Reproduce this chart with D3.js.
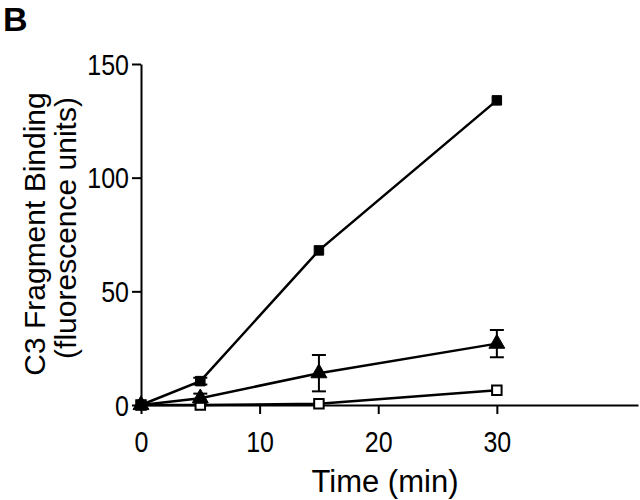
<!DOCTYPE html>
<html><head><meta charset="utf-8">
<script src="https://cdn.jsdelivr.net/npm/d3@7"></script>
<style>body{margin:0;background:#fff}svg{display:block;font-family:"Liberation Sans",Arial,sans-serif}</style>
</head><body>
<svg id="c" width="640" height="500"></svg>
<script>
const times = [0, 5, 15, 30];
const filledSquare = [0, 10.5, 68, 134];
const filledSquareErr = [0, 1.5, 0, 0];
const triangle = [0, 3, 14, 27];
const triangleErr = [0, 2, 8, 6];
const openSquare = [0, 0, 0.5, 6.5];
const openSquareErr = [0, 0, 0, 0];
const xTicks = [0, 10, 20, 30];
const yTicks = [0, 50, 100, 150];

const svg = d3.select("#c");
const x = d3.scaleLinear().domain([0, 41.9]).range([141, 638]);
const y = d3.scaleLinear().domain([0, 150]).range([405, 64]);

const xAxis = svg.append("g").attr("transform","translate(0,405)")
  .call(d3.axisBottom(x).tickValues(xTicks).tickSize(9).tickPadding(10).tickSizeOuter(0));
const yAxis = svg.append("g").attr("transform","translate(141,0)")
  .call(d3.axisLeft(y).tickValues(yTicks).tickSize(9).tickPadding(3).tickSizeOuter(0));
[xAxis,yAxis].forEach(a=>{
  a.select(".domain").attr("stroke","#000").attr("stroke-width",2);
  a.selectAll(".tick line").attr("stroke","#000").attr("stroke-width",2);
  a.selectAll(".tick text").attr("fill","#000").style("font-size","25px").style("font-family","'Liberation Sans',Arial,sans-serif");
});
// slightly taller glyphs, as in the reference
xAxis.selectAll(".tick text").attr("y",0).attr("dy",0).attr("transform","translate(0,47) scale(1,1.15)");
yAxis.selectAll(".tick text").attr("x",0).attr("dy",0).attr("transform","translate(-12,10) scale(1,1.15)");

svg.append("text").attr("x",385).attr("y",492).attr("text-anchor","middle")
  .style("font-size","31px").text("Time (min)");
svg.append("text").attr("transform","translate(45,234) rotate(-90)").attr("text-anchor","middle")
  .style("font-size","30px").text("C3 Fragment Binding");
svg.append("text").attr("transform","translate(76,228) rotate(-90)").attr("text-anchor","middle")
  .style("font-size","30px").text("(fluorescence units)");
svg.append("text").attr("x",3).attr("y",31).style("font-size","34px").style("font-weight","bold").text("B");

const series = [
  {vals: openSquare, err: openSquareErr, type:"osq"},
  {vals: triangle, err: triangleErr, type:"tri"},
  {vals: filledSquare, err: filledSquareErr, type:"fsq"}
];
const line = d3.line().x(d=>x(d[0])).y(d=>y(d[1]));
series.forEach(s=>{
  const pts = times.map((t,i)=>[t,s.vals[i],s.err[i]]);
  const g = svg.append("g");
  g.append("path").attr("d",line(pts)).attr("fill","none").attr("stroke","#000").attr("stroke-width",2.5);
  pts.forEach(p=>{
    if(p[2]>0){
      const cx=x(p[0]), t=y(p[1]+p[2]), b=y(p[1]-p[2]);
      g.append("line").attr("x1",cx).attr("x2",cx).attr("y1",t).attr("y2",b).attr("stroke","#000").attr("stroke-width",2);
      [t,b].forEach(yy=>g.append("line").attr("x1",cx-7).attr("x2",cx+7).attr("y1",yy).attr("y2",yy).attr("stroke","#000").attr("stroke-width",2));
    }
  });
  const sym = s.type==="tri" ? d3.symbol().type(d3.symbolTriangle).size(110) : d3.symbol().type(d3.symbolSquare).size(90);
  g.selectAll("path.m").data(pts).enter().append("path").attr("class","m")
    .attr("transform",d=>`translate(${x(d[0])},${y(d[1])})`)
    .attr("d",sym)
    .attr("fill",s.type==="osq"?"#fff":"#000")
    .attr("stroke","#000").attr("stroke-width",s.type==="osq"?2:1);
});
</script>
</body></html>
